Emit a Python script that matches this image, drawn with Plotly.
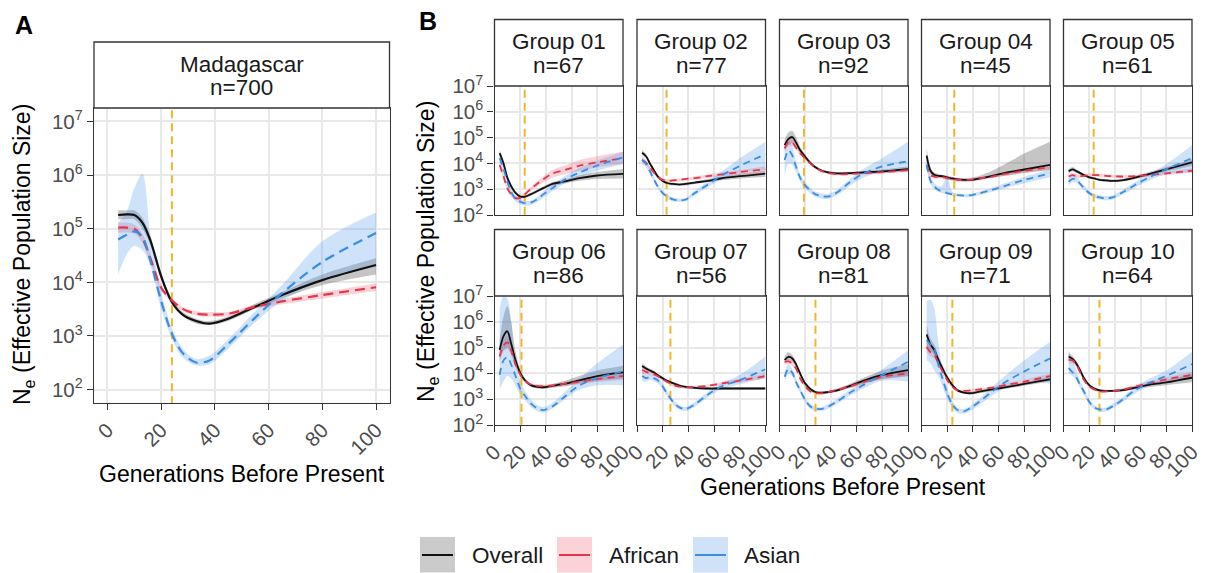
import plotly.graph_objects as go

FIG_W, FIG_H = 1206, 573
FONT = "Liberation Sans, Arial, Helvetica, sans-serif"

# Generations before present at which Ne was estimated
GENERATIONS = [4, 7, 10, 13, 16, 20, 24, 28, 33, 38, 45, 55, 65, 80, 100]

PANEL_TITLES = ["Madagascar", "Group 01", "Group 02", "Group 03", "Group 04", "Group 05",
                "Group 06", "Group 07", "Group 08", "Group 09", "Group 10"]
SAMPLE_SIZES = [700, 67, 77, 92, 45, 61, 86, 56, 81, 71, 64]
# estimated admixture time (generations) marked by the dashed vertical line
ADMIXTURE_GEN = [24, 23.5, 23, 19, 25.5, 23.5, 21, 26, 28, 24, 28]

X_TICKS = [0, 20, 40, 60, 80, 100]
Y_TICKS = [1e2, 1e3, 1e4, 1e5, 1e6, 1e7]
Y_TICK_TEXT = ["10<sup>2</sup>", "10<sup>3</sup>", "10<sup>4</sup>",
               "10<sup>5</sup>", "10<sup>6</sup>", "10<sup>7</sup>"]

# ---- Madagascar (all samples) ----
MAD_OVR = [1.8e5, 1.85e5, 1.8e5, 1.3e5, 6.0e4, 1.3e4, 4.3e3, 2.5e3, 1.9e3, 1.7e3, 2.1e3, 3.5e3, 5.8e3, 1.1e4, 2.1e4]
MAD_OVR_LO = [1.5e5, 1.5e5, 1.5e5, 1.0e5, 5.0e4, 1.1e4, 3.8e3, 2.3e3, 1.7e3, 1.6e3, 1.9e3, 3.2e3, 5.0e3, 8.9e3, 1.4e4]
MAD_OVR_HI = [2.2e5, 2.2e5, 2.2e5, 1.6e5, 7.2e4, 1.5e4, 4.8e3, 2.8e3, 2.1e3, 1.9e3, 2.3e3, 4.0e3, 6.6e3, 1.4e4, 2.8e4]
MAD_AFR = [1.05e5, 1.05e5, 1.0e5, 6.6e4, 2.8e4, 7.9e3, 4.6e3, 3.2e3, 2.6e3, 2.5e3, 2.6e3, 3.5e3, 4.4e3, 5.8e3, 8.1e3]
MAD_AFR_LO = [8.5e4, 8.5e4, 8.1e4, 5.4e4, 2.3e4, 6.9e3, 4.2e3, 2.9e3, 2.4e3, 2.3e3, 2.3e3, 3.2e3, 3.9e3, 5.0e3, 6.9e3]
MAD_AFR_HI = [1.3e5, 1.3e5, 1.2e5, 8.1e4, 3.4e4, 9.1e3, 5.0e3, 3.5e3, 2.9e3, 2.8e3, 2.8e3, 3.9e3, 4.9e3, 6.6e3, 9.5e3]
MAD_ASN = [6.3e4, 7.6e4, 8.9e4, 7.1e4, 2.5e4, 4.5e3, 1.1e3, 4.8e2, 3.2e2, 3.5e2, 7.1e2, 2.2e3, 6.3e3, 2.4e4, 8.3e4]
MAD_ASN_LO = [1.4e4, 3.2e4, 4.8e4, 4.0e4, 2.0e4, 3.2e3, 8.9e2, 4.0e2, 2.8e2, 3.0e2, 5.8e2, 1.8e3, 4.5e3, 1.1e4, 2.2e4]
MAD_ASN_HI = [1.3e5, 2.0e5, 5.6e5, 1.05e6, 7.9e4, 6.6e3, 1.4e3, 5.8e2, 3.7e2, 4.3e2, 8.7e2, 2.9e3, 8.9e3, 5.8e4, 2.0e5]

# ---- Group 01 ----
G01_OVR = [2.5e4, 1.0e4, 2.8e3, 1.3e3, 7.6e2, 5.2e2, 5.2e2, 6.3e2, 8.3e2, 1.1e3, 1.6e3, 2.0e3, 2.6e3, 3.4e3, 3.9e3]
G01_OVR_LO = [1.9e4, 7.9e3, 2.3e3, 1.1e3, 6.6e2, 4.6e2, 4.6e2, 5.5e2, 7.2e2, 1.0e3, 1.3e3, 1.7e3, 2.1e3, 2.5e3, 2.6e3]
G01_OVR_HI = [3.2e4, 1.3e4, 3.4e3, 1.5e3, 8.7e2, 6.0e2, 6.0e2, 7.2e2, 9.5e2, 1.3e3, 1.9e3, 2.4e3, 3.3e3, 4.6e3, 6.0e3]
G01_AFR = [8.7e3, 3.2e3, 1.1e3, 6.3e2, 4.6e2, 4.6e2, 6.6e2, 1.0e3, 1.6e3, 2.4e3, 4.0e3, 5.6e3, 7.9e3, 1.1e4, 1.6e4]
G01_AFR_LO = [6.3e3, 2.4e3, 8.9e2, 5.2e2, 3.8e2, 3.8e2, 5.5e2, 8.3e2, 1.3e3, 1.8e3, 2.8e3, 3.8e3, 5.0e3, 7.1e3, 9.5e3]
G01_AFR_HI = [1.2e4, 4.2e3, 1.4e3, 7.6e2, 5.5e2, 5.5e2, 7.9e2, 1.2e3, 2.0e3, 3.2e3, 5.6e3, 8.3e3, 1.3e4, 1.9e4, 2.8e4]
G01_ASN = [1.6e4, 6.3e3, 2.0e3, 7.9e2, 4.5e2, 3.3e2, 2.8e2, 3.0e2, 4.0e2, 6.3e2, 1.1e3, 2.4e3, 4.2e3, 8.3e3, 1.7e4]
G01_ASN_LO = [1.0e4, 4.2e3, 1.4e3, 6.0e2, 3.5e2, 2.6e2, 2.3e2, 2.4e2, 3.2e2, 4.8e2, 8.3e2, 1.7e3, 2.8e3, 5.2e3, 9.5e3]
G01_ASN_HI = [2.4e4, 9.5e3, 2.8e3, 1.05e3, 5.8e2, 4.2e2, 3.5e2, 3.6e2, 5.0e2, 8.3e2, 1.5e3, 3.3e3, 6.3e3, 1.3e4, 2.8e4]

# ---- Group 02 ----
G02_OVR = [2.6e4, 1.9e4, 1.0e4, 5.6e3, 3.2e3, 2.1e3, 1.7e3, 1.6e3, 1.5e3, 1.6e3, 1.8e3, 2.1e3, 2.6e3, 3.2e3, 4.0e3]
G02_OVR_LO = [2.1e4, 1.6e4, 8.5e3, 4.9e3, 2.8e3, 1.9e3, 1.5e3, 1.4e3, 1.4e3, 1.4e3, 1.6e3, 1.9e3, 2.2e3, 2.6e3, 3.0e3]
G02_OVR_HI = [3.3e4, 2.3e4, 1.2e4, 6.5e3, 3.5e3, 2.4e3, 1.9e3, 1.8e3, 1.7e3, 1.8e3, 2.0e3, 2.5e3, 3.0e3, 4.0e3, 5.2e3]
G02_AFR = [1.35e4, 1.05e4, 7.1e3, 4.5e3, 3.0e3, 2.3e3, 2.1e3, 2.2e3, 2.3e3, 2.5e3, 2.7e3, 3.2e3, 3.7e3, 4.6e3, 5.9e3]
G02_AFR_LO = [1.1e4, 8.5e3, 5.9e3, 3.8e3, 2.6e3, 2.0e3, 1.9e3, 1.9e3, 2.0e3, 2.1e3, 2.3e3, 2.7e3, 3.1e3, 3.7e3, 4.5e3]
G02_AFR_HI = [1.7e4, 1.3e4, 8.5e3, 5.2e3, 3.4e3, 2.6e3, 2.5e3, 2.5e3, 2.6e3, 2.8e3, 3.1e3, 3.7e3, 4.5e3, 5.6e3, 7.8e3]
G02_ASN = [1.35e4, 9.5e3, 5.0e3, 2.5e3, 1.3e3, 7.1e2, 5.0e2, 4.0e2, 3.7e2, 4.0e2, 7.1e2, 1.5e3, 3.2e3, 7.9e3, 2.3e4]
G02_ASN_LO = [9.5e3, 7.1e3, 3.8e3, 2.0e3, 1.1e3, 5.9e2, 4.2e2, 3.3e2, 3.2e2, 3.4e2, 5.8e2, 1.2e3, 2.2e3, 4.2e3, 5.5e3]
G02_ASN_HI = [1.9e4, 1.3e4, 6.6e3, 3.2e3, 1.6e3, 8.5e2, 6.0e2, 4.8e2, 4.4e2, 4.7e2, 8.7e2, 2.0e3, 4.5e3, 1.6e4, 6.9e4]

# ---- Group 03 ----
G03_OVR = [5.1e4, 8.9e4, 1.05e5, 6.3e4, 3.3e4, 1.8e4, 1.05e4, 7.1e3, 5.2e3, 4.5e3, 4.1e3, 4.2e3, 4.5e3, 4.9e3, 6.0e3]
G03_OVR_LO = [3.2e4, 5.0e4, 6.0e4, 4.2e4, 2.5e4, 1.45e4, 8.9e3, 6.2e3, 4.7e3, 4.0e3, 3.6e3, 3.7e3, 3.9e3, 4.2e3, 4.8e3]
G03_OVR_HI = [8.3e4, 1.6e5, 1.8e5, 1.0e5, 4.4e4, 2.2e4, 1.2e4, 8.1e3, 5.9e3, 5.0e3, 4.6e3, 4.7e3, 5.1e3, 5.8e3, 7.6e3]
G03_AFR = [3.8e4, 6.6e4, 6.3e4, 4.0e4, 2.5e4, 1.6e4, 1.0e4, 6.9e3, 5.0e3, 4.2e3, 3.8e3, 3.9e3, 4.2e3, 4.6e3, 5.5e3]
G03_AFR_LO = [2.8e4, 4.8e4, 4.6e4, 3.2e4, 2.1e4, 1.35e4, 8.7e3, 6.2e3, 4.5e3, 3.7e3, 3.4e3, 3.5e3, 3.7e3, 4.0e3, 4.6e3]
G03_AFR_HI = [5.1e4, 9.1e4, 8.7e4, 5.0e4, 3.0e4, 1.9e4, 1.15e4, 7.8e3, 5.6e3, 4.7e3, 4.3e3, 4.4e3, 4.7e3, 5.2e3, 6.6e3]
G03_ASN = [1.35e4, 3.2e4, 2.0e4, 7.1e3, 2.8e3, 1.4e3, 8.9e2, 6.3e2, 5.4e2, 5.2e2, 7.6e2, 1.9e3, 4.0e3, 7.6e3, 1.2e4]
G03_ASN_LO = [3.2e3, 1.0e4, 8.9e3, 4.5e3, 2.0e3, 1.05e3, 6.9e2, 5.0e2, 4.3e2, 4.2e2, 5.9e2, 1.4e3, 2.8e3, 4.5e3, 5.5e3]
G03_ASN_HI = [4.0e4, 7.9e4, 4.5e4, 1.1e4, 4.0e3, 1.9e3, 1.15e3, 7.9e2, 6.8e2, 6.6e2, 9.8e2, 2.5e3, 6.0e3, 1.6e4, 6.9e4]

# ---- Group 04 ----
G04_OVR = [2.0e4, 5.2e3, 3.6e3, 3.3e3, 3.2e3, 2.9e3, 2.6e3, 2.4e3, 2.3e3, 2.3e3, 2.6e3, 3.3e3, 4.3e3, 5.8e3, 8.7e3]
G04_OVR_LO = [1.1e4, 4.0e3, 3.0e3, 2.8e3, 2.75e3, 2.5e3, 2.2e3, 2.1e3, 2.0e3, 2.0e3, 2.3e3, 2.75e3, 3.3e3, 4.2e3, 5.5e3]
G04_OVR_HI = [4.0e4, 7.1e3, 4.4e3, 3.9e3, 3.6e3, 3.3e3, 3.0e3, 2.75e3, 2.6e3, 2.75e3, 3.3e3, 5.2e3, 9.5e3, 2.4e4, 6.9e4]
G04_AFR = [8.9e3, 3.5e3, 3.1e3, 3.0e3, 3.0e3, 2.7e3, 2.5e3, 2.3e3, 2.3e3, 2.3e3, 2.6e3, 3.1e3, 3.9e3, 5.2e3, 7.1e3]
G04_AFR_LO = [6.3e3, 2.8e3, 2.6e3, 2.6e3, 2.5e3, 2.3e3, 2.1e3, 2.0e3, 2.0e3, 2.0e3, 2.2e3, 2.7e3, 3.3e3, 4.4e3, 5.6e3]
G04_AFR_HI = [1.3e4, 4.5e3, 3.6e3, 3.5e3, 3.5e3, 3.1e3, 2.8e3, 2.7e3, 2.6e3, 2.7e3, 3.0e3, 3.5e3, 4.6e3, 6.3e3, 8.9e3]
G04_ASN = [8.9e3, 2.1e3, 1.3e3, 9.5e2, 8.1e2, 7.1e2, 6.3e2, 5.9e2, 5.6e2, 5.8e2, 6.9e2, 9.5e2, 1.35e3, 2.3e3, 4.1e3]
G04_ASN_LO = [5.6e3, 1.6e3, 1.0e3, 7.9e2, 6.9e2, 6.2e2, 5.5e2, 5.1e2, 4.9e2, 5.0e2, 5.9e2, 7.9e2, 1.1e3, 1.7e3, 2.9e3]
G04_ASN_HI = [1.4e4, 2.9e3, 1.7e3, 1.3e3, 1.4e3, 3.2e3, 7.9e2, 6.8e2, 6.5e2, 6.6e2, 8.1e2, 1.15e3, 1.7e3, 3.0e3, 5.8e3]

# ---- Group 05 ----
G05_OVR = [5.0e3, 5.9e3, 5.0e3, 4.2e3, 3.5e3, 2.9e3, 2.6e3, 2.3e3, 2.2e3, 2.1e3, 2.2e3, 2.75e3, 3.7e3, 5.9e3, 1.1e4]
G05_OVR_LO = [4.2e3, 5.0e3, 4.3e3, 3.6e3, 3.1e3, 2.6e3, 2.3e3, 2.1e3, 1.95e3, 1.9e3, 2.0e3, 2.4e3, 3.2e3, 4.8e3, 7.9e3]
G05_OVR_HI = [6.0e3, 7.2e3, 5.9e3, 4.8e3, 3.9e3, 3.2e3, 2.9e3, 2.6e3, 2.5e3, 2.4e3, 2.5e3, 3.2e3, 4.4e3, 7.2e3, 1.45e4]
G05_AFR = [3.1e3, 3.5e3, 3.3e3, 3.2e3, 3.3e3, 3.5e3, 3.5e3, 3.5e3, 3.3e3, 3.2e3, 3.1e3, 3.2e3, 3.5e3, 4.1e3, 5.2e3]
G05_AFR_LO = [2.5e3, 3.0e3, 2.8e3, 2.75e3, 2.9e3, 3.1e3, 3.1e3, 3.0e3, 2.9e3, 2.75e3, 2.7e3, 2.75e3, 3.1e3, 3.5e3, 4.3e3]
G05_AFR_HI = [3.8e3, 4.3e3, 3.9e3, 3.6e3, 3.8e3, 4.1e3, 4.1e3, 4.0e3, 3.8e3, 3.6e3, 3.5e3, 3.6e3, 4.1e3, 4.8e3, 6.5e3]
G05_ASN = [1.95e3, 2.5e3, 2.4e3, 1.6e3, 1.1e3, 7.1e2, 5.5e2, 4.8e2, 4.5e2, 4.8e2, 7.1e2, 1.4e3, 2.6e3, 5.9e3, 1.6e4]
G05_ASN_LO = [1.4e3, 1.9e3, 1.8e3, 1.3e3, 9.1e2, 5.9e2, 4.6e2, 4.0e2, 3.7e2, 4.0e2, 5.8e2, 1.1e3, 2.0e3, 3.8e3, 4.5e3]
G05_ASN_HI = [2.7e3, 3.3e3, 3.2e3, 2.0e3, 1.4e3, 8.5e2, 6.6e2, 5.8e2, 5.4e2, 5.8e2, 8.7e2, 1.8e3, 3.5e3, 9.5e3, 5.1e4]

# ---- Group 06 ----
G06_OVR = [8.1e4, 2.8e5, 4.3e5, 1.4e5, 3.8e4, 1.05e4, 5.2e3, 3.5e3, 3.0e3, 2.9e3, 3.3e3, 4.0e3, 5.2e3, 7.9e3, 1.1e4]
G06_OVR_LO = [3.2e4, 7.9e4, 1.0e5, 5.6e4, 2.0e4, 7.9e3, 4.5e3, 3.1e3, 2.6e3, 2.5e3, 2.8e3, 3.2e3, 4.0e3, 5.2e3, 6.3e3]
G06_OVR_HI = [2.0e5, 1.6e6, 4.0e6, 1.0e6, 8.9e4, 1.4e4, 6.3e3, 4.1e3, 3.5e3, 3.3e3, 3.9e3, 5.2e3, 7.6e3, 1.3e4, 2.0e4]
G06_AFR = [4.5e4, 1.2e5, 1.6e5, 7.9e4, 2.5e4, 9.1e3, 5.0e3, 3.7e3, 3.3e3, 3.2e3, 3.4e3, 4.0e3, 4.7e3, 6.0e3, 7.9e3]
G06_AFR_LO = [2.8e4, 7.1e4, 8.9e4, 5.0e4, 1.9e4, 7.6e3, 4.3e3, 3.2e3, 2.9e3, 2.8e3, 3.0e3, 3.3e3, 3.8e3, 4.6e3, 5.6e3]
G06_AFR_HI = [7.1e4, 2.0e5, 2.8e5, 1.3e5, 3.3e4, 1.1e4, 5.9e3, 4.3e3, 3.8e3, 3.7e3, 3.9e3, 4.8e3, 5.8e3, 7.9e3, 1.1e4]
G06_ASN = [8.7e3, 3.2e4, 4.2e4, 2.2e4, 8.9e3, 2.6e3, 1.3e3, 7.1e2, 4.5e2, 3.8e2, 5.2e2, 1.3e3, 3.2e3, 6.6e3, 1.2e4]
G06_ASN_LO = [2.5e3, 5.0e3, 7.9e3, 6.3e3, 3.5e3, 1.6e3, 8.9e2, 5.2e2, 3.5e2, 3.0e2, 4.3e2, 1.0e3, 2.2e3, 3.5e3, 3.5e3]
G06_ASN_HI = [3.2e6, 1.0e7, 7.9e6, 1.0e6, 3.2e4, 5.0e3, 2.0e3, 1.0e3, 5.9e2, 5.0e2, 7.2e2, 2.0e3, 5.6e3, 2.5e4, 1.3e5]

# ---- Group 07 ----
G07_OVR = [1.95e4, 1.55e4, 1.3e4, 1.1e4, 8.7e3, 6.5e3, 5.0e3, 4.2e3, 3.4e3, 3.0e3, 2.75e3, 2.6e3, 2.6e3, 2.6e3, 2.6e3]
G07_OVR_LO = [1.55e4, 1.3e4, 1.1e4, 9.5e3, 7.6e3, 5.6e3, 4.5e3, 3.7e3, 3.0e3, 2.6e3, 2.5e3, 2.3e3, 2.3e3, 2.3e3, 2.3e3]
G07_OVR_HI = [2.5e4, 1.9e4, 1.5e4, 1.3e4, 1.0e4, 7.4e3, 5.6e3, 4.7e3, 3.8e3, 3.3e3, 3.1e3, 3.0e3, 3.0e3, 3.0e3, 3.0e3]
G07_AFR = [1.35e4, 1.15e4, 1.0e4, 9.3e3, 7.9e3, 5.9e3, 4.6e3, 3.6e3, 3.1e3, 2.9e3, 3.0e3, 3.3e3, 4.0e3, 5.2e3, 7.9e3]
G07_AFR_LO = [1.0e4, 9.1e3, 8.5e3, 7.9e3, 6.8e3, 5.1e3, 4.1e3, 3.2e3, 2.75e3, 2.6e3, 2.6e3, 3.0e3, 3.5e3, 4.4e3, 6.3e3]
G07_AFR_HI = [1.8e4, 1.45e4, 1.2e4, 1.1e4, 9.3e3, 6.8e3, 5.1e3, 4.1e3, 3.5e3, 3.2e3, 3.3e3, 3.7e3, 4.6e3, 6.3e3, 1.0e4]
G07_ASN = [7.9e3, 6.6e3, 7.2e3, 6.6e3, 5.5e3, 3.1e3, 1.5e3, 7.9e2, 4.8e2, 4.2e2, 6.3e2, 1.5e3, 3.0e3, 5.5e3, 1.45e4]
G07_ASN_LO = [5.0e3, 4.8e3, 5.5e3, 5.0e3, 4.2e3, 2.4e3, 1.2e3, 6.3e2, 4.0e2, 3.5e2, 5.1e2, 1.2e3, 2.3e3, 3.8e3, 6.5e3]
G07_ASN_HI = [1.3e4, 9.1e3, 9.5e3, 8.7e3, 7.2e3, 4.0e3, 1.9e3, 1.0e3, 5.8e2, 5.0e2, 7.8e2, 1.9e3, 4.0e3, 8.9e3, 4.5e4]

# ---- Group 08 ----
G08_OVR = [3.3e4, 4.4e4, 3.8e4, 2.2e4, 1.0e4, 4.1e3, 2.5e3, 1.9e3, 1.8e3, 1.9e3, 2.2e3, 3.3e3, 5.1e3, 8.7e3, 1.35e4]
G08_OVR_LO = [2.4e4, 3.2e4, 2.8e4, 1.8e4, 8.3e3, 3.5e3, 2.2e3, 1.7e3, 1.6e3, 1.7e3, 1.95e3, 2.75e3, 4.0e3, 6.0e3, 7.9e3]
G08_OVR_HI = [4.6e4, 6.6e4, 5.2e4, 2.8e4, 1.2e4, 4.7e3, 2.8e3, 2.1e3, 2.0e3, 2.1e3, 2.6e3, 4.0e3, 6.6e3, 1.3e4, 2.3e4]
G08_AFR = [2.8e4, 2.9e4, 2.4e4, 1.5e4, 6.5e3, 3.1e3, 2.0e3, 1.7e3, 1.7e3, 1.9e3, 2.3e3, 3.2e3, 4.6e3, 7.4e3, 1.0e4]
G08_AFR_LO = [2.1e4, 2.3e4, 1.9e4, 1.3e4, 5.5e3, 2.7e3, 1.8e3, 1.55e3, 1.5e3, 1.7e3, 2.0e3, 2.7e3, 3.8e3, 5.9e3, 7.6e3]
G08_AFR_HI = [3.7e4, 3.6e4, 3.0e4, 1.8e4, 7.6e3, 3.5e3, 2.3e3, 1.95e3, 1.9e3, 2.1e3, 2.6e3, 3.7e3, 5.5e3, 9.3e3, 1.3e4]
G08_ASN = [7.4e3, 1.5e4, 1.05e4, 4.5e3, 2.3e3, 9.3e2, 5.2e2, 4.3e2, 4.2e2, 5.2e2, 8.3e2, 1.8e3, 3.5e3, 8.7e3, 2.8e4]
G08_ASN_LO = [4.5e3, 1.0e4, 7.6e3, 3.3e3, 1.8e3, 7.6e2, 4.3e2, 3.5e2, 3.5e2, 4.3e2, 6.6e2, 1.4e3, 2.6e3, 5.2e3, 4.8e3]
G08_ASN_HI = [1.2e4, 2.3e4, 1.45e4, 6.0e3, 3.0e3, 1.15e3, 6.5e2, 5.1e2, 5.0e2, 6.5e2, 1.05e3, 2.3e3, 4.8e3, 1.45e4, 7.9e4]

# ---- Group 09 ----
G09_OVR = [3.2e5, 1.3e5, 8.1e4, 3.5e4, 1.7e4, 6.9e3, 3.5e3, 2.2e3, 1.8e3, 1.7e3, 1.95e3, 2.4e3, 2.9e3, 3.9e3, 5.9e3]
G09_OVR_LO = [1.0e5, 7.9e4, 5.2e4, 2.5e4, 1.3e4, 5.8e3, 3.1e3, 2.0e3, 1.6e3, 1.55e3, 1.7e3, 2.1e3, 2.5e3, 3.3e3, 4.8e3]
G09_OVR_HI = [7.9e5, 2.2e5, 1.3e5, 5.0e4, 2.2e4, 8.3e3, 4.1e3, 2.5e3, 2.0e3, 1.95e3, 2.2e3, 2.75e3, 3.3e3, 4.6e3, 7.2e3]
G09_AFR = [1.05e5, 6.6e4, 5.1e4, 2.6e4, 1.3e4, 5.6e3, 3.0e3, 2.2e3, 2.1e3, 2.2e3, 2.4e3, 2.8e3, 3.5e3, 4.8e3, 7.9e3]
G09_AFR_LO = [6.6e4, 4.5e4, 3.6e4, 2.0e4, 1.0e4, 4.7e3, 2.6e3, 2.0e3, 1.9e3, 1.95e3, 2.1e3, 2.5e3, 3.0e3, 4.0e3, 6.3e3]
G09_AFR_HI = [1.7e5, 9.8e4, 7.2e4, 3.5e4, 1.6e4, 6.8e3, 3.5e3, 2.5e3, 2.3e3, 2.5e3, 2.7e3, 3.2e3, 4.1e3, 5.8e3, 1.0e4]
G09_ASN = [1.95e5, 1.3e5, 8.9e4, 2.2e4, 7.1e3, 1.7e3, 6.3e2, 3.8e2, 3.4e2, 4.5e2, 7.9e2, 2.0e3, 4.5e3, 1.2e4, 3.8e4]
G09_ASN_LO = [3.2e4, 2.5e4, 1.3e4, 7.9e3, 3.5e3, 1.0e3, 4.5e2, 3.0e2, 2.75e2, 3.5e2, 6.0e2, 1.4e3, 2.8e3, 5.6e3, 4.0e3]
G09_ASN_HI = [6.3e6, 7.1e6, 3.2e6, 1.6e5, 1.6e4, 2.8e3, 8.9e2, 4.8e2, 4.2e2, 5.6e2, 1.05e3, 3.0e3, 7.9e3, 3.2e4, 1.7e5]

# ---- Group 10 ----
G10_OVR = [4.5e4, 3.6e4, 2.4e4, 1.3e4, 6.5e3, 3.5e3, 2.6e3, 2.2e3, 2.1e3, 2.1e3, 2.2e3, 2.75e3, 3.5e3, 4.5e3, 6.8e3]
G10_OVR_LO = [3.2e4, 2.8e4, 1.9e4, 1.05e4, 5.6e3, 3.2e3, 2.3e3, 1.95e3, 1.9e3, 1.9e3, 2.0e3, 2.4e3, 2.9e3, 3.5e3, 4.5e3]
G10_OVR_HI = [6.3e4, 4.7e4, 3.0e4, 1.5e4, 7.4e3, 4.0e3, 2.9e3, 2.5e3, 2.3e3, 2.3e3, 2.5e3, 3.2e3, 4.0e3, 5.6e3, 9.5e3]
G10_AFR = [3.3e4, 3.2e4, 2.2e4, 1.1e4, 5.5e3, 3.1e3, 2.4e3, 2.0e3, 2.0e3, 2.1e3, 2.3e3, 3.0e3, 4.0e3, 5.9e3, 8.7e3]
G10_AFR_LO = [2.4e4, 2.4e4, 1.7e4, 9.1e3, 4.7e3, 2.7e3, 2.1e3, 1.8e3, 1.8e3, 1.9e3, 2.1e3, 2.6e3, 3.4e3, 4.8e3, 6.6e3]
G10_AFR_HI = [4.6e4, 4.2e4, 2.9e4, 1.4e4, 6.5e3, 3.5e3, 2.7e3, 2.3e3, 2.2e3, 2.3e3, 2.6e3, 3.5e3, 4.7e3, 7.2e3, 1.15e4]
G10_ASN = [1.6e4, 1.1e4, 7.1e3, 3.5e3, 1.95e3, 7.9e2, 4.8e2, 4.0e2, 4.0e2, 5.2e2, 8.9e2, 2.1e3, 4.0e3, 7.9e3, 2.3e4]
G10_ASN_LO = [1.0e4, 7.9e3, 5.2e3, 2.75e3, 1.5e3, 6.3e2, 4.0e2, 3.3e2, 3.3e2, 4.3e2, 7.1e2, 1.6e3, 2.9e3, 5.2e3, 6.5e3]
G10_ASN_HI = [7.9e4, 3.5e4, 1.3e4, 4.8e3, 2.5e3, 1.0e3, 5.9e2, 4.8e2, 4.8e2, 6.6e2, 1.1e3, 2.8e3, 5.6e3, 1.3e4, 6.9e4]

# (mean, lower, upper) per ancestry series for each panel, in PANEL_TITLES order
PANEL_SERIES = [
    {"Overall": (MAD_OVR, MAD_OVR_LO, MAD_OVR_HI), "African": (MAD_AFR, MAD_AFR_LO, MAD_AFR_HI), "Asian": (MAD_ASN, MAD_ASN_LO, MAD_ASN_HI)},
    {"Overall": (G01_OVR, G01_OVR_LO, G01_OVR_HI), "African": (G01_AFR, G01_AFR_LO, G01_AFR_HI), "Asian": (G01_ASN, G01_ASN_LO, G01_ASN_HI)},
    {"Overall": (G02_OVR, G02_OVR_LO, G02_OVR_HI), "African": (G02_AFR, G02_AFR_LO, G02_AFR_HI), "Asian": (G02_ASN, G02_ASN_LO, G02_ASN_HI)},
    {"Overall": (G03_OVR, G03_OVR_LO, G03_OVR_HI), "African": (G03_AFR, G03_AFR_LO, G03_AFR_HI), "Asian": (G03_ASN, G03_ASN_LO, G03_ASN_HI)},
    {"Overall": (G04_OVR, G04_OVR_LO, G04_OVR_HI), "African": (G04_AFR, G04_AFR_LO, G04_AFR_HI), "Asian": (G04_ASN, G04_ASN_LO, G04_ASN_HI)},
    {"Overall": (G05_OVR, G05_OVR_LO, G05_OVR_HI), "African": (G05_AFR, G05_AFR_LO, G05_AFR_HI), "Asian": (G05_ASN, G05_ASN_LO, G05_ASN_HI)},
    {"Overall": (G06_OVR, G06_OVR_LO, G06_OVR_HI), "African": (G06_AFR, G06_AFR_LO, G06_AFR_HI), "Asian": (G06_ASN, G06_ASN_LO, G06_ASN_HI)},
    {"Overall": (G07_OVR, G07_OVR_LO, G07_OVR_HI), "African": (G07_AFR, G07_AFR_LO, G07_AFR_HI), "Asian": (G07_ASN, G07_ASN_LO, G07_ASN_HI)},
    {"Overall": (G08_OVR, G08_OVR_LO, G08_OVR_HI), "African": (G08_AFR, G08_AFR_LO, G08_AFR_HI), "Asian": (G08_ASN, G08_ASN_LO, G08_ASN_HI)},
    {"Overall": (G09_OVR, G09_OVR_LO, G09_OVR_HI), "African": (G09_AFR, G09_AFR_LO, G09_AFR_HI), "Asian": (G09_ASN, G09_ASN_LO, G09_ASN_HI)},
    {"Overall": (G10_OVR, G10_OVR_LO, G10_OVR_HI), "African": (G10_AFR, G10_AFR_LO, G10_AFR_HI), "Asian": (G10_ASN, G10_ASN_LO, G10_ASN_HI)},
]

SERIES_STYLE = {
    "Overall": dict(color="#111111", fill="rgba(95,95,95,0.36)", dash="solid", key="#cbcbcb"),
    "African": dict(color="#E5344C", fill="rgba(235,80,100,0.25)", dash="dash", key="#fbd2d8"),
    "Asian": dict(color="#3A8DE3", fill="rgba(80,150,235,0.28)", dash="dash", key="#cfe2f8"),
}
VLINE_COLOR = "#EFB62C"
BORDER = "#333333"
GRID = "#e8e8e8"
TICK_TEXT = "#4d4d4d"

# ---- panel geometry (pixels from the top-left corner) ----
A_BOX = dict(left=94, right=389.5, strip_top=42, top=108, bottom=403)
B_LEFTS = [494.5, 637, 779.5, 921.5, 1063.5]
B_WIDTH = 128.5
B_ROWS = [dict(strip_top=19.5, top=86, bottom=215), dict(strip_top=229.5, top=296, bottom=425)]


def fx(px):
    return px / FIG_W


def fy(px):
    return 1 - px / FIG_H


boxes = [A_BOX]
for r, row in enumerate(B_ROWS):
    for c in range(5):
        boxes.append(dict(left=B_LEFTS[c], right=B_LEFTS[c] + B_WIDTH, row=r, col=c, **row))

fig = go.Figure()
layout = dict(
    width=FIG_W, height=FIG_H,
    margin=dict(l=0, r=0, t=0, b=0, pad=0, autoexpand=False),
    paper_bgcolor="white", plot_bgcolor="white", showlegend=False,
    font=dict(family=FONT, color="#1a1a1a"),
)
shapes, annotations = [], []

for k, box in enumerate(boxes):
    sfx = "" if k == 0 else str(k + 1)
    xa, ya = "x" + sfx, "y" + sfx
    is_a = k == 0
    lw = 2.2 if is_a else 1.8
    dash_pat = "10px,6px" if is_a else "7px,5px"

    series = PANEL_SERIES[k]
    # confidence ribbons first, then the mean curves on top
    for name in ["Overall", "African", "Asian"]:
        mid, lo, hi = series[name]
        st = SERIES_STYLE[name]
        fig.add_trace(go.Scatter(x=GENERATIONS, y=lo, mode="lines", xaxis=xa, yaxis=ya,
                                 line=dict(width=0, shape="spline", smoothing=0.9),
                                 hoverinfo="skip", showlegend=False))
        fig.add_trace(go.Scatter(x=GENERATIONS, y=hi, mode="lines", xaxis=xa, yaxis=ya,
                                 line=dict(width=0, shape="spline", smoothing=0.9),
                                 fill="tonexty", fillcolor=st["fill"],
                                 hoverinfo="skip", showlegend=False))
    # admixture time marker, drawn over the ribbons
    v = ADMIXTURE_GEN[k]
    fig.add_trace(go.Scatter(x=[v, v], y=[10 ** 1, 10 ** 8], mode="lines", xaxis=xa, yaxis=ya,
                             line=dict(color=VLINE_COLOR, width=2, dash="8px,5px"),
                             hoverinfo="skip", showlegend=False))
    for name in ["Overall", "African", "Asian"]:
        mid, lo, hi = series[name]
        st = SERIES_STYLE[name]
        fig.add_trace(go.Scatter(x=GENERATIONS, y=mid, mode="lines", name=name, xaxis=xa, yaxis=ya,
                                 line=dict(color=st["color"], width=lw, shape="spline", smoothing=0.9,
                                           dash="solid" if st["dash"] == "solid" else dash_pat),
                                 showlegend=False))

    show_x = is_a or box["row"] == 1
    show_y = is_a or box["col"] == 0
    tick_font = dict(size=20.5, color=TICK_TEXT, family=FONT)

    layout["xaxis" + sfx] = dict(
        domain=[fx(box["left"]), fx(box["right"])], anchor=ya, automargin=False,
        range=[-5, 105] if is_a else [0, 100],
        tickmode="array", tickvals=X_TICKS, ticktext=[str(t) for t in X_TICKS],
        showticklabels=show_x, ticks="outside" if show_x else "",
        ticklen=6, tickwidth=1.4, tickcolor=BORDER, tickangle=-45, tickfont=tick_font,
        showgrid=True, gridcolor=GRID, gridwidth=1.5, zeroline=False,
        showline=True, mirror=True, linecolor=BORDER, linewidth=1.3,
    )
    layout["yaxis" + sfx] = dict(
        domain=[fy(box["bottom"]), fy(box["top"])], anchor=xa, type="log", automargin=False,
        range=[1.75, 7.25] if is_a else [2, 7],
        tickmode="array", tickvals=Y_TICKS, ticktext=Y_TICK_TEXT,
        showticklabels=show_y, ticks="outside" if show_y else "",
        ticklen=6, tickwidth=1.4, tickcolor=BORDER, tickfont=tick_font,
        showgrid=True, gridcolor=GRID, gridwidth=1.5, zeroline=False,
        showline=True, mirror=True, linecolor=BORDER, linewidth=1.3,
    )

    # facet strip
    shapes.append(dict(type="rect", xref="paper", yref="paper",
                       x0=fx(box["left"]), x1=fx(box["right"]),
                       y0=fy(box["top"]), y1=fy(box["strip_top"]),
                       fillcolor="white", line=dict(color=BORDER, width=1.3)))
    cx = fx((box["left"] + box["right"]) / 2)
    annotations.append(dict(text=PANEL_TITLES[k], x=cx, y=fy(box["strip_top"] + 22),
                            xref="paper", yref="paper", showarrow=False,
                            xanchor="center", yanchor="middle",
                            font=dict(size=22.5, color="#1a1a1a", family=FONT)))
    annotations.append(dict(text="n=%d" % SAMPLE_SIZES[k], x=cx, y=fy(box["strip_top"] + 46),
                            xref="paper", yref="paper", showarrow=False,
                            xanchor="center", yanchor="middle",
                            font=dict(size=22.5, color="#1a1a1a", family=FONT)))

# axis titles
TITLE_FONT = dict(size=23, color="#000000", family=FONT)
X_TITLE = "Generations Before Present"
Y_TITLE = "N<sub>e</sub> (Effective Population Size)"
annotations += [
    dict(text=X_TITLE, x=fx(241.5), y=fy(474), xref="paper", yref="paper", showarrow=False,
         xanchor="center", yanchor="middle", font=TITLE_FONT),
    dict(text=X_TITLE, x=fx(843), y=fy(487), xref="paper", yref="paper", showarrow=False,
         xanchor="center", yanchor="middle", font=TITLE_FONT),
    dict(text=Y_TITLE, x=fx(24), y=fy(255), xref="paper", yref="paper", showarrow=False,
         textangle=-90, xanchor="center", yanchor="middle", font=TITLE_FONT),
    dict(text=Y_TITLE, x=fx(427), y=fy(252), xref="paper", yref="paper", showarrow=False,
         textangle=-90, xanchor="center", yanchor="middle", font=TITLE_FONT),
    dict(text="<b>A</b>", x=fx(24), y=fy(25), xref="paper", yref="paper", showarrow=False,
         xanchor="center", yanchor="middle", font=dict(size=25, color="#000000", family=FONT)),
    dict(text="<b>B</b>", x=fx(428), y=fy(21), xref="paper", yref="paper", showarrow=False,
         xanchor="center", yanchor="middle", font=dict(size=25, color="#000000", family=FONT)),
]

# legend: filled key boxes with a line across, followed by labels
LEGEND_ITEMS = [("Overall", 420, 470), ("African", 557, 607), ("Asian", 693, 742)]
KEY_W, KEY_TOP, KEY_BOTTOM, KEY_MID = 35, 537, 572.5, 555
for name, key_left, text_left in LEGEND_ITEMS:
    st = SERIES_STYLE[name]
    shapes.append(dict(type="rect", xref="paper", yref="paper",
                       x0=fx(key_left), x1=fx(key_left + KEY_W), y0=fy(KEY_BOTTOM), y1=fy(KEY_TOP),
                       fillcolor=st["key"], line=dict(width=0)))
    shapes.append(dict(type="line", xref="paper", yref="paper",
                       x0=fx(key_left + 2), x1=fx(key_left + KEY_W - 2), y0=fy(KEY_MID), y1=fy(KEY_MID),
                       line=dict(color=st["color"], width=2)))
    annotations.append(dict(text=name, x=fx(text_left), y=fy(KEY_MID), xref="paper", yref="paper",
                            showarrow=False, xanchor="left", yanchor="middle",
                            font=dict(size=22.5, color="#1a1a1a", family=FONT)))

layout["shapes"] = shapes
layout["annotations"] = annotations
fig.update_layout(**layout)

fig.write_html("out.html")
